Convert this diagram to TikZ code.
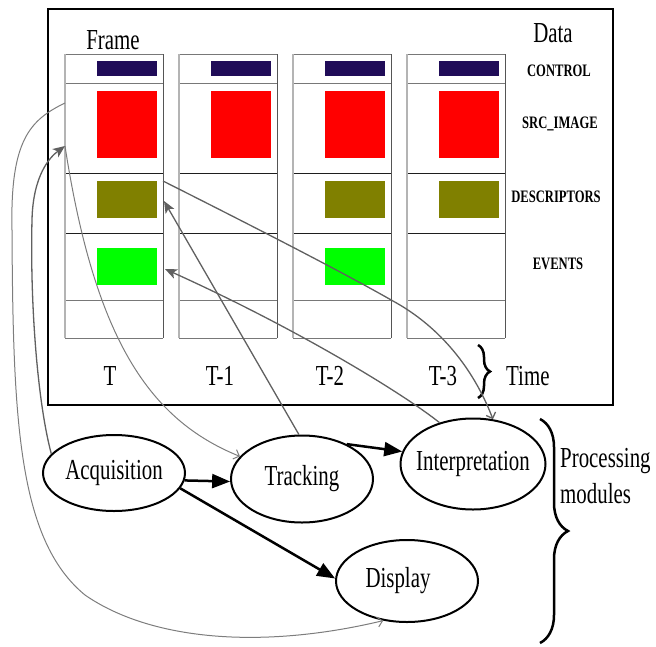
\documentclass[tikz,border=0pt]{standalone}
\usepackage{fontspec}
\setmainfont[FakeStretch=0.72]{Liberation Serif}
\usetikzlibrary{arrows.meta,shapes.geometric,decorations.pathreplacing}
\definecolor{ctrlblue}{RGB}{32,12,88}
\definecolor{olivebox}{RGB}{128,128,0}
\definecolor{linkgray}{RGB}{96,96,96}
\definecolor{lightlink}{RGB}{125,125,125}
\definecolor{edgelight}{RGB}{180,180,180}
\definecolor{edgedark}{RGB}{85,85,85}
\definecolor{rowgray}{RGB}{120,120,120}
\definecolor{rowdark}{RGB}{30,30,30}
\begin{document}
\begin{tikzpicture}[x=1pt,y=-1pt,
  big/.style={inner sep=0pt,font=\fontsize{29}{30}\selectfont},
  small/.style={inner sep=0pt,font=\fontsize{17.5}{18}\selectfont\bfseries},
  proc/.style={ellipse,draw,line width=2pt,inner sep=0pt,font=\fontsize{29}{30}\selectfont},
  flow/.style={line width=2.5pt,-{Triangle[length=18pt,width=14pt]}},
  readlink/.style={draw=linkgray,line width=1.3pt,-{Stealth[length=12pt,width=10pt,inset=3pt]}},
  writelink/.style={draw=lightlink,line width=1pt,-{Straight Barb[length=5pt,width=10pt]}},
  block/.style={inner sep=0pt,draw=none,anchor=north west,minimum width=60pt},
  bracket/.style={line width=2.5pt,decorate}
]
\useasboundingbox (0,0) rectangle (656,646);

% data store
\draw[line width=2.8pt] (48,9) rectangle (613,405);

% frame columns
\foreach \x in {65,179,293,407} {
  \draw[rowgray,line width=1pt] (\x,54) -- ++(98,0) (\x,83) -- ++(98,0)
       (\x,300) -- ++(98,0) (\x,338) -- ++(98,0);
  \draw[rowdark,line width=1pt] (\x,173) -- ++(98,0) (\x,233) -- ++(98,0);
  \draw[edgelight,line width=1.3pt] (\x,54) -- (\x,338);
  \draw[edgedark,line width=1pt] (\x+98,54) -- (\x+98,338);
}
\foreach \i/\x in {1/65,2/179,3/293,4/407} {
  \node[block,fill=ctrlblue,minimum height=15pt] (ctl\i) at (\x+32,61) {};
  \node[block,fill=red,minimum height=67pt] (src\i) at (\x+32,91) {};
}
\foreach \i/\x in {1/65,3/293,4/407}
  \node[block,fill=olivebox,minimum height=37pt] (desc\i) at (\x+32,181) {};
\foreach \i/\x in {1/65,3/293}
  \node[block,fill=green,minimum height=37pt] (ev\i) at (\x+32,248) {};

% labels
\node[big,anchor=base] (framelbl) at (113,49) {Frame};
\node[big,anchor=base] (datalbl) at (553,42) {Data};
\node[small,anchor=base] (lctl) at (559,76) {CONTROL};
\node[small,anchor=base] (lsrc) at (560,128) {SRC\_IMAGE};
\node[small,anchor=base] (ldesc) at (556,202) {DESCRIPTORS};
\node[small,anchor=base] (lev) at (558,269) {EVENTS};
\node[big,anchor=base] (t0) at (110,385) {T};
\node[big,anchor=base] (t1) at (220,385) {T-1};
\node[big,anchor=base] (t2) at (330,385) {T-2};
\node[big,anchor=base] (t3) at (443,385) {T-3};
\node[big,anchor=base west] (timelbl) at (506,385) {Time};
\node[big,anchor=base west] (proclbl) at (560,467) {Processing};
\node[big,anchor=base west] (modlbl) at (560,503) {modules};

% braces
\draw[bracket,decoration={brace,amplitude=12pt}] (478,345) -- (478,398);
\draw[bracket,decoration={brace,amplitude=28pt}] (540,419) -- (540,643);

% processing modules
\node[proc,minimum width=142pt,minimum height=76pt] (acq) at (114,473) {\makebox[0pt]{Acquisition}};
\node[proc,minimum width=142pt,minimum height=87pt] (trk) at (302,479) {\makebox[0pt]{Tracking}};
\node[proc,minimum width=145pt,minimum height=91pt] (int) at (473,464) {\makebox[0pt]{Interpretation}};
\node[proc,minimum width=142pt,minimum height=82pt] (disp) at (407,581) {\makebox[0pt]{Display\hspace{18pt}}};

% connector ends on the frame at time T
\coordinate (f1in) at (65,103);
\coordinate (f1src) at (65,146);
\coordinate (f1desc) at (163,181);
\coordinate (f1descin) at (164,201);
\coordinate (f1evin) at (165,269);

% control flow
\draw[flow] (acq.-6) -- (trk.182);
\draw[flow] (acq.-13) -- (disp.178);
\draw[flow] (trk.38) -- (int.170);

% data access
\draw[writelink] (f1in) .. controls (30,120) and (10,140) .. (12,230)
  .. controls (13,420) and (18,540) .. (85,595)
  .. controls (150,640) and (260,650) .. (disp.239);
\draw[readlink] (acq.163) .. controls (37,400) and (30,300) .. (32,220)
  .. controls (33,175) and (50,157) .. (f1src);
\draw[writelink] (f1src) .. controls (95,340) and (150,420) .. (trk.160);
\draw[readlink] (trk.94) -- (f1descin);
\draw[readlink] (int.129) .. controls (405,395) and (300,330) .. (f1evin);
\draw[writelink,draw=linkgray,line width=1.3pt] (f1desc) .. controls (300,250) and (360,282) .. (400,305)
  .. controls (450,335) and (478,380) .. (int.66);
\end{tikzpicture}
\end{document}
